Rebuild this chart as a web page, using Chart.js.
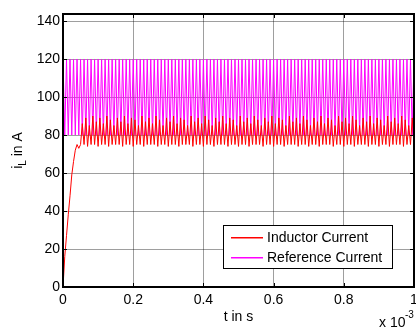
<!DOCTYPE html>
<html>
<head>
<meta charset="utf-8">
<script src="https://cdn.jsdelivr.net/npm/chart.js@4"></script>
<style>
  html, body { margin: 0; padding: 0; background: #fff; }
  #wrap { width: 416px; height: 329px; }
</style>
</head>
<body>
<div id="wrap"><canvas id="myChart" width="416" height="329"></canvas></div>
<script>
// data block (time in units of 1e-3 s)
const timeMs = [
  0,.005,.01,.015,.02,.025,.03,.035,.04,.045,
  .05,.055,.06,.065,.07,.075,.08,.085,.09,.095,
  .1,.105,.11,.115,.12,.125,.13,.135,.14,.145,
  .15,.155,.16,.165,.17,.175,.18,.185,.19,.195,
  .2,.205,.21,.215,.22,.225,.23,.235,.24,.245,
  .25,.255,.26,.265,.27,.275,.28,.285,.29,.295,
  .3,.305,.31,.315,.32,.325,.33,.335,.34,.345,
  .35,.355,.36,.365,.37,.375,.38,.385,.39,.395,
  .4,.405,.41,.415,.42,.425,.43,.435,.44,.445,
  .45,.455,.46,.465,.47,.475,.48,.485,.49,.495,
  .5,.505,.51,.515,.52,.525,.53,.535,.54,.545,
  .55,.555,.56,.565,.57,.575,.58,.585,.59,.595,
  .6,.605,.61,.615,.62,.625,.63,.635,.64,.645,
  .65,.655,.66,.665,.67,.675,.68,.685,.69,.695,
  .7,.705,.71,.715,.72,.725,.73,.735,.74,.745,
  .75,.755,.76,.765,.77,.775,.78,.785,.79,.795,
  .8,.805,.81,.815,.82,.825,.83,.835,.84,.845,
  .85,.855,.86,.865,.87,.875,.88,.885,.89,.895,
  .9,.905,.91,.915,.92,.925,.93,.935,.94,.945,
  .95,.955,.96,.965,.97,.975,.98,.985,.99,.995,
  1
];

const inductorCurrent = [
  0,16,27,38,48,59,66,72,75,73,
  75,86,75,89,74,85,75,90,75,87,
  74,89,75,86,75,90,74,88,75,85,
  75,89,75,87,74,90,75,86,75,89,
  74,88,75,85,75,90,74,87,75,89,
  75,86,75,90,74,88,75,85,75,89,
  74,87,75,90,75,86,74,89,75,88,
  75,85,75,90,74,87,75,89,75,86,
  74,90,75,88,75,85,74,89,75,87,
  75,90,75,86,74,89,75,88,75,85,
  74,90,75,87,75,89,74,86,75,90,
  75,88,75,85,74,89,75,87,75,90,
  74,86,75,89,75,88,74,85,75,90,
  75,87,75,89,74,86,75,90,75,88,
  74,85,75,89,75,87,74,90,75,86,
  75,89,75,88,74,85,75,90,75,87,
  74,89,75,86,75,90,74,88,75,85,
  75,89,75,87,74,90,75,86,75,89,
  74,88,75,85,75,90,74,87,75,89,
  75,86,75,90,74,88,75,85,75,89,
  75
];

const referenceCurrent = [
  120,80,120,80,120,80,120,80,120,80,
  120,80,120,80,120,80,120,80,120,80,
  120,80,120,80,120,80,120,80,120,80,
  120,80,120,80,120,80,120,80,120,80,
  120,80,120,80,120,80,120,80,120,80,
  120,80,120,80,120,80,120,80,120,80,
  120,80,120,80,120,80,120,80,120,80,
  120,80,120,80,120,80,120,80,120,80,
  120,80,120,80,120,80,120,80,120,80,
  120,80,120,80,120,80,120,80,120,80,
  120,80,120,80,120,80,120,80,120,80,
  120,80,120,80,120,80,120,80,120,80,
  120,80,120,80,120,80,120,80,120,80,
  120,80,120,80,120,80,120,80,120,80,
  120,80,120,80,120,80,120,80,120,80,
  120,80,120,80,120,80,120,80,120,80,
  120,80,120,80,120,80,120,80,120,80,
  120,80,120,80,120,80,120,80,120,80,
  120,80,120,80,120,80,120,80,120,80,
  120,80,120,80,120,80,120,80,120,80,
  120
];

const seriesNames = ['Inductor Current', 'Reference Current'];
const seriesColors = ['#ff0000', '#ff00ff'];
const xTicks = [0, 0.2, 0.4, 0.6, 0.8, 1];
const yTicks = [0, 20, 40, 60, 80, 100, 120, 140];

const FONT = '"Liberation Sans", Arial, sans-serif';

const toPoints = vals => vals.map((v, i) => ({ x: timeMs[i], y: v }));

const data = {
  datasets: [
    {
      label: seriesNames[0],
      data: toPoints(inductorCurrent),
      borderColor: seriesColors[0],
      borderWidth: 1,
      pointRadius: 0,
      tension: 0
    },
    {
      label: seriesNames[1],
      data: toPoints(referenceCurrent),
      borderColor: seriesColors[1],
      borderWidth: 1,
      pointRadius: 0,
      tension: 0
    }
  ]
};

// box, inner ticks, titles and legend
const matlabFrame = {
  id: 'matlabFrame',
  afterDatasetsDraw(chart) {
    const { ctx, chartArea: { top, bottom, left, right }, scales: { x, y } } = chart;
    ctx.save();

    // inner tick marks
    ctx.strokeStyle = '#000';
    ctx.lineWidth = 1;
    ctx.beginPath();
    xTicks.forEach(t => {
      const px = Math.round(x.getPixelForValue(t)) + 0.5;
      ctx.moveTo(px, bottom); ctx.lineTo(px, bottom - 4);
      ctx.moveTo(px, top); ctx.lineTo(px, top + 4);
    });
    yTicks.forEach(t => {
      const py = Math.round(y.getPixelForValue(t)) + 0.5;
      ctx.moveTo(left, py); ctx.lineTo(left + 4, py);
      ctx.moveTo(right, py); ctx.lineTo(right - 4, py);
    });
    ctx.stroke();

    // axes box
    ctx.lineWidth = 2;
    ctx.strokeRect(left, top, right - left, bottom - top);

    // x title
    ctx.fillStyle = '#000';
    ctx.font = '14px ' + FONT;
    ctx.textAlign = 'center';
    ctx.textBaseline = 'alphabetic';
    ctx.fillText('t in s', (left + right) / 2, 321);

    // exponent label
    ctx.textAlign = 'left';
    ctx.fillText('x 10', 379, 327);
    ctx.font = '10px ' + FONT;
    ctx.fillText('-3', 405, 318);

    // y title with subscript
    ctx.translate(22, (top + bottom) / 2);
    ctx.rotate(-Math.PI / 2);
    ctx.font = '14px ' + FONT;
    const w1 = ctx.measureText('i').width;
    ctx.font = '10px ' + FONT;
    const w2 = ctx.measureText('L').width;
    ctx.font = '14px ' + FONT;
    const w3 = ctx.measureText(' in A').width;
    let sx = -(w1 + w2 + w3) / 2;
    ctx.fillText('i', sx, 0);
    sx += w1;
    ctx.font = '10px ' + FONT;
    ctx.fillText('L', sx, 4);
    sx += w2;
    ctx.font = '14px ' + FONT;
    ctx.fillText(' in A', sx, 0);
    ctx.setTransform(1, 0, 0, 1, 0, 0);

    // legend
    const lx = 223, ly = 225, lw = 169, lh = 43;
    ctx.fillStyle = '#fff';
    ctx.fillRect(lx, ly, lw, lh);
    ctx.strokeStyle = '#000';
    ctx.lineWidth = 1;
    ctx.strokeRect(lx + 0.5, ly + 0.5, lw, lh);
    ctx.font = '14px ' + FONT;
    ctx.textBaseline = 'middle';
    seriesNames.forEach((name, i) => {
      const yy = Math.round(237 + i * 19.5);
      ctx.fillStyle = seriesColors[i];
      ctx.fillRect(231, yy, 32, 1.5);
      ctx.fillStyle = '#000';
      ctx.fillText(name, 267, yy + 1);
    });

    ctx.restore();
  }
};

// config block
const config = {
  type: 'line',
  data: data,
  options: {
    responsive: false,
    animation: false,
    events: [],
    layout: { padding: { top: 14, right: 2, left: 0, bottom: 0 } },
    plugins: {
      legend: { display: false },
      tooltip: { enabled: false }
    },
    scales: {
      x: {
        type: 'linear',
        min: 0,
        max: 1,
        border: { display: false },
        grid: { color: 'rgba(0,0,0,0.38)', drawTicks: false, lineWidth: 1 },
        ticks: {
          stepSize: 0.2,
          padding: 5,
          color: '#000',
          font: { family: FONT, size: 14 },
          maxRotation: 0,
          callback: v => String(+v.toFixed(1))
        },
        afterFit: s => { s.height = 42; s.paddingLeft = 0; s.paddingRight = 0; }
      },
      y: {
        type: 'linear',
        min: 0,
        max: 143.7,
        border: { display: false },
        grid: { color: 'rgba(0,0,0,0.38)', drawTicks: false, lineWidth: 1 },
        ticks: {
          stepSize: 20,
          includeBounds: false,
          padding: 3,
          color: '#000',
          font: { family: FONT, size: 14 }
        },
        afterFit: s => { s.width = 63; s.paddingTop = 0; s.paddingBottom = 0; }
      }
    }
  },
  plugins: [matlabFrame]
};

// init render block
const ctx = document.getElementById('myChart');
const myChart = new Chart(ctx, config);
</script>
</body>
</html>
